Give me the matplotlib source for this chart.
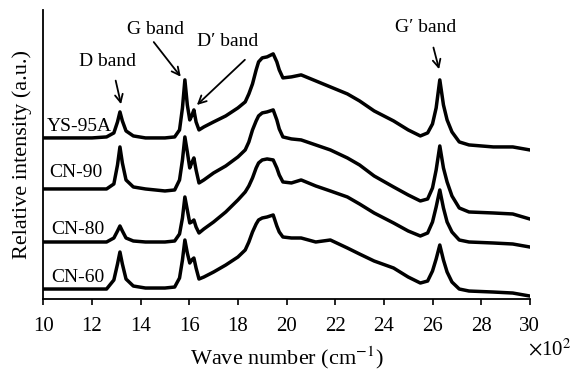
import matplotlib
matplotlib.use('Agg')
import matplotlib.pyplot as plt

plt.rcParams['font.family'] = ['Liberation Serif', 'DejaVu Serif']
plt.rcParams['mathtext.fontset'] = 'stix'

# wave number (x10^2 cm^-1), shared by all spectra
wave = [10.0, 11.0, 12.0, 12.6, 12.9, 13.05, 13.15, 13.25, 13.4, 13.7, 14.2,
        15.0, 15.4, 15.6, 15.72, 15.82, 15.92, 16.02, 16.1, 16.19, 16.28, 16.4,
        16.6, 17.0, 17.5, 18.0, 18.3, 18.45, 18.6, 18.75, 18.85, 19.0, 19.2,
        19.45, 19.6, 19.7, 19.85, 20.2, 20.6, 21.2, 21.8, 22.5, 23.0, 23.6,
        24.4, 25.0, 25.5, 25.8, 26.0, 26.15, 26.3, 26.45, 26.6, 26.8, 27.1,
        27.5, 28.5, 29.3, 30.0]

# relative intensity (a.u., stacked)
ys95a = [161, 161, 161, 162, 166, 177, 187, 178, 168, 163, 161,
         161, 162, 169, 191, 219, 194, 179, 183, 189, 177, 169,
         172, 177, 183, 191, 197, 205, 215, 229, 237, 241, 242,
         245, 237, 229, 221, 222, 224, 218, 212, 205, 198, 188,
         178, 169, 163, 166, 175, 191, 219, 194, 179, 167, 157,
         154, 152, 152, 149]
cn90 = [110, 110, 110, 110, 115, 134, 152, 136, 119, 112, 110,
        108, 109, 119, 139, 162, 147, 131, 136, 141, 129, 116,
        119, 126, 133, 142, 149, 157, 169, 178, 183, 186, 187,
        189, 179, 170, 162, 160, 159, 154, 149, 141, 134, 123,
        112, 104, 98, 100, 111, 129, 153, 131, 117, 103, 91,
        87, 86, 85, 80]
cn80 = [57, 57, 57, 57, 61, 68, 73, 68, 61, 58, 57,
        57, 58, 65, 81, 102, 89, 76, 77, 79, 72, 66,
        70, 77, 87, 99, 107, 113, 121, 131, 136, 139, 140,
        139, 131, 124, 117, 116, 119, 113, 108, 102, 95, 86,
        76, 68, 63, 66, 77, 92, 109, 91, 77, 67, 59,
        57, 56, 55, 52]
cn60 = [10, 10, 10, 10, 19, 35, 47, 35, 20, 13, 11,
        11, 12, 21, 39, 59, 46, 36, 39, 41, 31, 20,
        22, 27, 34, 42, 49, 57, 67, 75, 79, 81, 82,
        84, 73, 67, 62, 61, 61, 57, 59, 51, 45, 38,
        31, 22, 16, 18, 28, 40, 54, 39, 27, 17, 10,
        8, 7, 6, 3]

samples = ['YS-95A', 'CN-90', 'CN-80', 'CN-60']
spectra = [ys95a, cn90, cn80, cn60]
xticks = [10, 12, 14, 16, 18, 20, 22, 24, 26, 28, 30]

fig = plt.figure(figsize=(5.73, 3.79), dpi=100)
ax = fig.add_axes([0.0756, 0.211, 0.849, 0.763])

for y in spectra:
    ax.plot(wave, y, color='black', linewidth=2.5, solid_joinstyle='round')

# sample names to the left of each trace
label_pos = [(12.82, 172), (12.45, 126), (12.53, 69), (12.53, 22)]
for name, (lx, ly) in zip(samples, label_pos):
    ax.text(lx, ly, name, ha='right', va='center', fontsize=14)

# band annotations
arrow = dict(arrowstyle='->', color='black', lw=1.3, mutation_scale=14)
ax.annotate('', xy=(13.22, 192), xytext=(12.95, 221), arrowprops=arrow)
ax.text(12.62, 237, 'D band', ha='center', va='center', fontsize=14)
ax.annotate('', xy=(15.72, 220), xytext=(14.47, 259), arrowprops=arrow)
ax.text(14.6, 269, 'G band', ha='center', va='center', fontsize=14)
ax.annotate('', xy=(16.23, 192), xytext=(18.37, 241), arrowprops=arrow)
ax.text(17.59, 257, 'D\u2032 band', ha='center', va='center', fontsize=14)
ax.annotate('', xy=(26.3, 227), xytext=(26.01, 254), arrowprops=arrow)
ax.text(25.72, 271, 'G\u2032 band', ha='center', va='center', fontsize=14)

ax.set_xlim(10, 30)
ax.set_ylim(0, 289)
ax.set_xticks(xticks)
ax.set_yticks([])
ax.spines['top'].set_visible(False)
ax.spines['right'].set_visible(False)
ax.spines['left'].set_linewidth(1.3)
ax.spines['bottom'].set_linewidth(1.3)
ax.tick_params(axis='x', direction='out', length=4, width=1.2, labelsize=15, pad=9)

ax.set_xlabel('Wave number (cm$^{-1}$)', fontsize=16, labelpad=6)
ax.set_ylabel('Relative intensity (a.u.)', fontsize=16, labelpad=8)
fig.text(0.997, 0.078, '$\\times$10$^2$', ha='right', va='center', fontsize=15)

plt.savefig('out.png', dpi=100)
